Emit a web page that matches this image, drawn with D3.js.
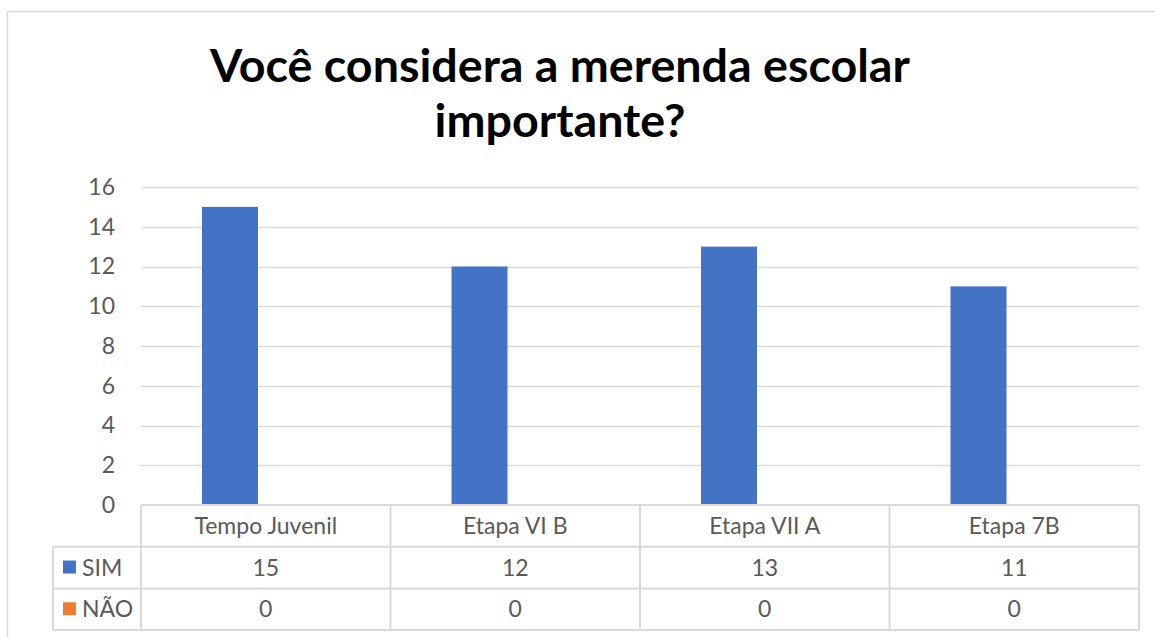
<!DOCTYPE html>
<html>
<head>
<meta charset="utf-8">
<script src="https://cdn.jsdelivr.net/npm/d3@7"></script>
<style>
  body { margin: 0; background: #fff; }
  text { font-family: Lato, "Open Sans", sans-serif; }
</style>
</head>
<body>
<div id="chart"></div>
<script>
// Data
const categories = ["Tempo Juvenil", "Etapa VI B", "Etapa VII A", "Etapa 7B"];
const seriesNames = ["SIM", "NÃO"];
const simValues = [15, 12, 13, 11];
const naoValues = [0, 0, 0, 0];
const yTicks = [0, 2, 4, 6, 8, 10, 12, 14, 16];
const titleLines = ["Você considera a merenda escolar", "importante?"];

const colors = {"SIM": "#4472c4", "NÃO": "#ed7d31"};
const values = {"SIM": simValues, "NÃO": naoValues};

const width = 1155, height = 637;
const plot = {left: 141, right: 1139, top: 187, bottom: 505};
const rowH = 41.7;
const legendX = 53;
const fontSize = 23;

const svg = d3.select("#chart").append("svg")
  .attr("width", width)
  .attr("height", height);

// outer chart border
svg.append("rect")
  .attr("x", 7.5).attr("y", 11.5)
  .attr("width", 1160).attr("height", 640)
  .attr("fill", "none")
  .attr("stroke", "#d9d9d9")
  .attr("stroke-width", 1.5);

// Title
const title = svg.append("g");
const titleSize = 41;
titleLines.forEach((t, i) => {
  title.append("text")
    .attr("x", 560)
    .attr("y", 82 + i * 55)
    .attr("text-anchor", "middle")
    .attr("font-size", titleSize)
    .attr("font-weight", "bold")
    .attr("fill", "#000")
    .text(t);
});
// fit first line to reference width
const t0 = title.select("text").node().getComputedTextLength();
const fitSize = titleSize * 700 / t0;
title.selectAll("text").attr("font-size", fitSize);

// Scales
const y = d3.scaleLinear().domain([0, 16]).range([plot.bottom, plot.top]);
const x0 = d3.scaleBand().domain(categories).range([plot.left, plot.right]).padding(0);
const x1 = d3.scaleBand().domain(seriesNames).range([0, x0.bandwidth()])
  .paddingInner(0.217).paddingOuter(0.853);

// Gridlines
svg.append("g")
  .selectAll("line")
  .data(yTicks.filter(d => d > 0))
  .enter().append("line")
  .attr("x1", plot.left).attr("x2", plot.right)
  .attr("y1", d => Math.round(y(d)) + 0.5).attr("y2", d => Math.round(y(d)) + 0.5)
  .attr("stroke", "#d9d9d9")
  .attr("stroke-width", 1.5);

// Y axis labels
const yAxis = svg.append("g")
  .attr("transform", `translate(${plot.left},0)`)
  .call(d3.axisLeft(y).tickValues(yTicks).tickSize(0).tickPadding(26));
yAxis.select(".domain").remove();
yAxis.selectAll("text")
  .attr("font-size", fontSize)
  .attr("font-family", "Lato, 'Open Sans', sans-serif")
  .attr("fill", "#595959");

// Bars
seriesNames.forEach(s => {
  svg.append("g")
    .selectAll("rect")
    .data(categories.map((c, i) => ({cat: c, v: values[s][i]})))
    .enter().append("rect")
    .attr("x", d => x0(d.cat) + x1(s))
    .attr("y", d => y(d.v))
    .attr("width", x1.bandwidth())
    .attr("height", d => y(0) - y(d.v))
    .attr("fill", colors[s]);
});

// Data table
const table = svg.append("g");
const lineColor = "#d9d9d9";
const tableTop = plot.bottom;
const tableBottom = tableTop + rowH * 3;
const textDy = 8;

// horizontal lines
[0, 1, 2, 3].forEach(r => {
  const yy = tableTop + r * rowH;
  table.append("line")
    .attr("x1", r === 0 ? plot.left : legendX).attr("x2", plot.right)
    .attr("y1", yy).attr("y2", yy)
    .attr("stroke", lineColor).attr("stroke-width", 2);
});
// vertical lines
const vx = categories.map(c => x0(c)).concat([plot.right]);
vx.forEach(xx => {
  table.append("line")
    .attr("x1", xx).attr("x2", xx)
    .attr("y1", tableTop).attr("y2", tableBottom)
    .attr("stroke", lineColor).attr("stroke-width", 2);
});
table.append("line")
  .attr("x1", legendX).attr("x2", legendX)
  .attr("y1", tableTop + rowH).attr("y2", tableBottom)
  .attr("stroke", lineColor).attr("stroke-width", 2);

// category labels
table.selectAll(".cat")
  .data(categories)
  .enter().append("text")
  .attr("x", d => x0(d) + x0.bandwidth() / 2)
  .attr("y", tableTop + rowH / 2 + textDy)
  .attr("text-anchor", "middle")
  .attr("font-size", fontSize)
  .attr("fill", "#595959")
  .text(d => d);

// series rows
seriesNames.forEach((s, r) => {
  const rowY = tableTop + rowH * (r + 1);
  table.append("rect")
    .attr("x", 63).attr("y", rowY + rowH / 2 - 7)
    .attr("width", 13).attr("height", 13)
    .attr("fill", colors[s]);
  table.append("text")
    .attr("x", 82)
    .attr("y", rowY + rowH / 2 + textDy)
    .attr("font-size", fontSize)
    .attr("fill", "#595959")
    .text(s);
  table.selectAll(null)
    .data(values[s])
    .enter().append("text")
    .attr("x", (d, i) => x0(categories[i]) + x0.bandwidth() / 2)
    .attr("y", rowY + rowH / 2 + textDy)
    .attr("text-anchor", "middle")
    .attr("font-size", fontSize)
    .attr("fill", "#595959")
    .text(d => d);
});
</script>
</body>
</html>
